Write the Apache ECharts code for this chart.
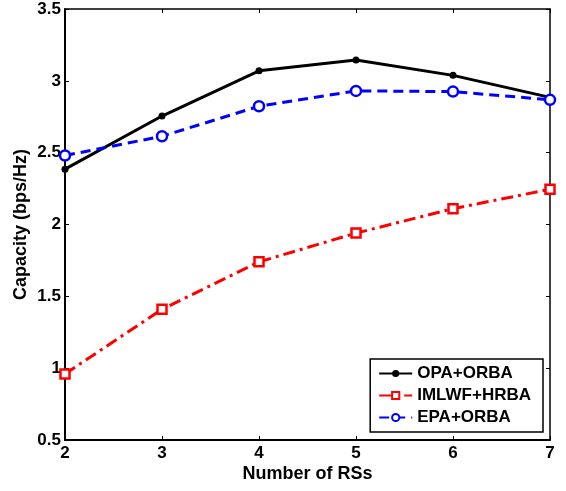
<!DOCTYPE html>
<html>
<head>
<meta charset="utf-8">
<script src="https://cdn.jsdelivr.net/npm/echarts@6/dist/echarts.min.js"></script>
<style>
html, body { margin: 0; padding: 0; background: #fff; }
#chart { width: 566px; height: 491px; }
</style>
</head>
<body>
<div id="chart"></div>
<script>
// data
let rsCounts = [2, 3, 4, 5, 6, 7];
let opaOrba = [2.385, 2.755, 3.07, 3.145, 3.038, 2.885];
let imlwfHrba = [0.96, 1.41, 1.74, 1.94, 2.11, 2.245];
let epaOrba = [2.48, 2.614, 2.823, 2.93, 2.925, 2.868];
let yTicks = [0.5, 1, 1.5, 2, 2.5, 3, 3.5];

function pairs(vals) {
	return rsCounts.map((x, i) => [x, vals[i]]);
}

const font = 'Liberation Sans, Arial, sans-serif';

let chart = echarts.init(document.getElementById('chart'));

let option = {
	animation: false,
	grid: { left: 65, right: 16, top: 9, bottom: 51 },
	xAxis: [
		{
			type: 'value', min: 2, max: 7, interval: 1,
			name: 'Number of RSs', nameLocation: 'middle', nameGap: 25,
			nameMoveOverlap: false,
			nameTextStyle: { fontFamily: font, fontWeight: 'bold', fontSize: 18, color: '#000' },
			axisLine: { lineStyle: { color: '#000', width: 2 } },
			axisTick: { inside: true, length: 4, lineStyle: { color: '#000' } },
			axisLabel: { fontFamily: font, fontWeight: 'bold', fontSize: 17, color: '#000', margin: 5 },
			splitLine: { show: false }
		},
		{
			type: 'value', min: 2, max: 7, interval: 1, position: 'top',
			axisLine: { lineStyle: { color: '#000', width: 1.5 } },
			axisTick: { inside: true, length: 4, lineStyle: { color: '#000' } },
			axisLabel: { show: false },
			splitLine: { show: false }
		}
	],
	yAxis: [
		{
			type: 'value', min: 0.5, max: 3.5, interval: 0.5,
			name: 'Capacity (bps/Hz)', nameLocation: 'middle', nameGap: 35,
			nameMoveOverlap: false,
			nameTextStyle: { fontFamily: font, fontWeight: 'bold', fontSize: 18, color: '#000' },
			axisLine: { show: true, lineStyle: { color: '#000', width: 2 } },
			axisTick: { show: true, inside: true, length: 4, lineStyle: { color: '#000' } },
			axisLabel: {
				fontFamily: font, fontWeight: 'bold', fontSize: 17, color: '#000', margin: 4,
				formatter: v => String(v)
			},
			splitLine: { show: false }
		},
		{
			type: 'value', min: 0.5, max: 3.5, interval: 0.5, position: 'right',
			axisLine: { show: true, lineStyle: { color: '#000', width: 1.5 } },
			axisTick: { show: true, inside: true, length: 4, lineStyle: { color: '#000' } },
			axisLabel: { show: false },
			splitLine: { show: false }
		}
	],
	legend: {
		right: 23, bottom: 59,
		orient: 'vertical',
		backgroundColor: '#fff',
		borderColor: '#000', borderWidth: 1.5,
		padding: [6, 12, 6, 8],
		itemGap: 5,
		itemWidth: 33, itemHeight: 9,
		textStyle: { fontFamily: font, fontWeight: 'bold', fontSize: 17, color: '#000' },
		data: ['OPA+ORBA', 'IMLWF+HRBA', 'EPA+ORBA']
	},
	series: [
		{
			name: 'OPA+ORBA', type: 'line',
			data: pairs(opaOrba),
			symbol: 'circle', symbolSize: 7,
			itemStyle: { color: '#000' },
			lineStyle: { color: '#000', width: 3, type: 'solid' },
			z: 3
		},
		{
			name: 'IMLWF+HRBA', type: 'line',
			data: pairs(imlwfHrba),
			symbol: 'rect', symbolSize: 9,
			itemStyle: { color: '#fff', borderColor: '#ff0000', borderWidth: 2.5 },
			lineStyle: { color: '#ff0000', width: 3, type: [12, 5, 3, 5] }
		},
		{
			name: 'EPA+ORBA', type: 'line',
			data: pairs(epaOrba),
			symbol: 'circle', symbolSize: 10,
			itemStyle: { color: '#fff', borderColor: '#0000ff', borderWidth: 2.5 },
			lineStyle: { color: '#0000ff', width: 3, type: [10, 6] }
		}
	]
};

chart.setOption(option);
</script>
</body>
</html>
